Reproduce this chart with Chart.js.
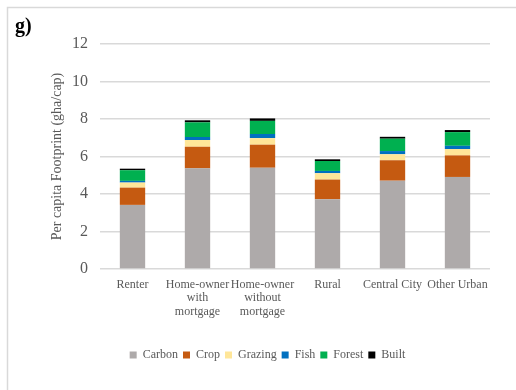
<!DOCTYPE html>
<html>
<head>
<meta charset="utf-8">
<script src="https://cdn.jsdelivr.net/npm/chart.js@4/dist/chart.umd.min.js"></script>
<style>
  html, body { margin: 0; padding: 0; background: #fff; }
  #wrap { width: 516px; height: 390px; position: relative; }
</style>
</head>
<body>
<div id="wrap"><canvas id="footprint"></canvas></div>
<script>
var groups = ["Renter", ["Home-owner", "with", "mortgage"], ["Home-owner", "without", "mortgage"], "Rural", "Central City", "Other Urban"];

var carbon  = [3.42, 5.37, 5.40, 3.72, 4.71, 4.91];
var crop    = [0.92, 1.15, 1.23, 1.05, 1.09, 1.15];
var grazing = [0.27, 0.36, 0.35, 0.34, 0.32, 0.34];
var fish    = [0.09, 0.16, 0.22, 0.12, 0.17, 0.17];
var forest  = [0.57, 0.78, 0.70, 0.53, 0.66, 0.73];
var built   = [0.08, 0.11, 0.13, 0.09, 0.10, 0.11];

var yTicks = [0, 2, 4, 6, 8, 10, 12];

var serif = "'Liberation Serif', 'Times New Roman', serif";

// outer frame + panel letter
var framePlugin = {
  id: 'frame',
  beforeDraw: function(chart) {
    var ctx = chart.ctx;
    ctx.save();
    ctx.fillStyle = '#fff';
    ctx.fillRect(0, 0, chart.width, chart.height);
    ctx.strokeStyle = '#d9d9d9';
    ctx.lineWidth = 1.5;
    ctx.strokeRect(7.5, 7.5, 700, 700);
    ctx.fillStyle = '#000';
    ctx.font = "bold 20px " + serif;
    ctx.textBaseline = 'alphabetic';
    ctx.fillText('g)', 15, 32);
    ctx.restore();
  }
};

function ds(label, data, color) {
  return { label: label, data: data, backgroundColor: color, borderWidth: 0,
           categoryPercentage: 1, barPercentage: 0.39 };
}

new Chart(document.getElementById('footprint'), {
  type: 'bar',
  data: {
    labels: groups,
    datasets: [
      ds("Carbon", carbon, "#aeaaaa"),
      ds("Crop", crop, "#c55a11"),
      ds("Grazing", grazing, "#ffe699"),
      ds("Fish", fish, "#0070c0"),
      ds("Forest", forest, "#00b050"),
      ds("Built", built, "#000000")
    ]
  },
  options: {
    responsive: true,
    maintainAspectRatio: false,
    animation: false,
    layout: { padding: { left: 45, right: 26, top: 44, bottom: 19 } },
    plugins: {
      tooltip: { enabled: false },
      legend: {
        position: 'bottom',
        labels: {
          boxWidth: 7, boxHeight: 7, padding: 5,
          color: '#595959',
          font: { family: serif, size: 12 }
        }
      }
    },
    scales: {
      x: {
        stacked: true,
        grid: { display: false },
        border: { display: false },
        afterFit: function(axis) { axis.height = 75; },
        ticks: {
          color: '#595959', padding: 1, maxRotation: 0, autoSkip: false,
          font: { family: serif, size: 12, lineHeight: 1.13 }
        }
      },
      y: {
        stacked: true,
        min: 0, max: 12,
        afterBuildTicks: function(axis) {
          axis.ticks = yTicks.map(function(v) { return { value: v }; });
        },
        afterFit: function(axis) { axis.width = 55; },
        grid: { color: '#d9d9d9', lineWidth: 1.5, drawTicks: false },
        border: { display: false },
        ticks: { color: '#595959', padding: 12, font: { family: serif, size: 16 } },
        title: {
          display: true,
          text: 'Per capita Footprint (gha/cap)',
          color: '#595959',
          padding: { top: 4, bottom: 4 },
          font: { family: serif, size: 14 }
        }
      }
    }
  },
  plugins: [framePlugin]
});
</script>
</body>
</html>
